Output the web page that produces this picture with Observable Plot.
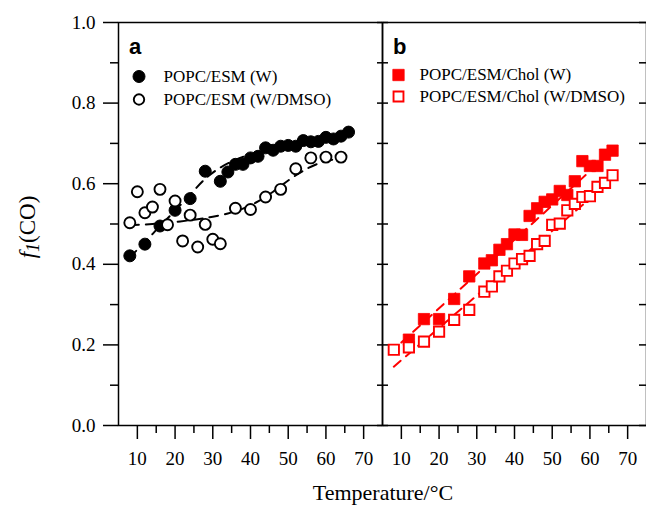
<!DOCTYPE html>
<html>
<head>
<meta charset="utf-8">
<script src="https://cdn.jsdelivr.net/npm/d3@7"></script>
<script src="https://cdn.jsdelivr.net/npm/@observablehq/plot@0.6"></script>
<style>
  html, body { margin: 0; padding: 0; background: #fff; }
  svg { overflow: visible; }
  #chart svg text { font-family: "Liberation Serif", "Times New Roman", serif; }
  #chart svg text.panel-letter, #chart svg g.panel-letter text { font-family: "Liberation Sans", Arial, sans-serif; }
</style>
</head>
<body>
<div id="chart"></div>
<script>
// ---- Data ----
const panels = ["a", "b"];

// Panel a: POPC/ESM (W)  — filled circles
const tA_W = [8,12,16,20,24,28,32,34,36,38,40,42,44,46,48,50,52,54,56,58,60,62,64,66];
const fA_W = [0.421,0.450,0.495,0.534,0.563,0.631,0.606,0.629,0.648,0.648,0.664,0.668,0.689,0.683,0.693,0.695,0.693,0.707,0.704,0.705,0.715,0.711,0.718,0.728];
// Panel a: POPC/ESM (W/DMSO) — open circles
const tA_D = [8,10,12,14,16,18,20,22,24,26,28,30,32,36,40,44,48,52,56,60,64];
const fA_D = [0.503,0.580,0.528,0.542,0.586,0.498,0.557,0.458,0.522,0.443,0.499,0.462,0.451,0.539,0.536,0.567,0.586,0.637,0.664,0.666,0.666];
// Panel b: POPC/ESM/Chol (W) — filled squares
const tB_W = [12,16,20,24,28,32,34,36,38,40,42,44,46,48,50,52,54,56,58,60,62,64,66];
const fB_W = [0.213,0.264,0.264,0.314,0.370,0.402,0.410,0.436,0.450,0.474,0.473,0.520,0.539,0.555,0.561,0.582,0.572,0.606,0.656,0.644,0.644,0.672,0.682];
// Panel b: POPC/ESM/Chol (W/DMSO) — open squares
const tB_D = [8,12,16,20,24,28,32,34,36,38,40,42,44,46,48,50,52,54,56,58,60,62,64,66];
const fB_D = [0.188,0.194,0.208,0.233,0.262,0.287,0.332,0.345,0.370,0.384,0.402,0.413,0.421,0.450,0.458,0.498,0.501,0.534,0.550,0.567,0.569,0.592,0.602,0.621];

// Dashed fit curves
const fitA_W_T = [8,12,16,20,24,28,32,36,40,44,48,52,56,60,64,66];
const fitA_W_f = [0.418,0.455,0.495,0.533,0.573,0.612,0.640,0.659,0.673,0.684,0.693,0.700,0.707,0.712,0.717,0.720];
const fitA_D_T = [8,14,20,26,30,34,38,42,46,50,54,58,62,64];
const fitA_D_f = [0.497,0.500,0.505,0.512,0.518,0.526,0.538,0.556,0.580,0.608,0.632,0.650,0.660,0.664];
const fitB_W_T = [10,66];
const fitB_W_f = [0.206,0.682];
const fitB_D_T = [8,66];
const fitB_D_f = [0.146,0.611];

// Ticks
const xMajor = [10,20,30,40,50,60,70];
const xMinor = [15,25,35,45,55,65];
const yMajor = [0,0.2,0.4,0.6,0.8,1.0];
const yMinor = [0.1,0.3,0.5,0.7,0.9];

// Legend labels
const legendA = ["POPC/ESM (W)", "POPC/ESM (W/DMSO)"];
const legendB = ["POPC/ESM/Chol (W)", "POPC/ESM/Chol (W/DMSO)"];

// ---- Build tables ----
const rows = (panel, T, F) => T.map((t, i) => ({panel, t, f: F[i]}));
const aW = rows("a", tA_W, fA_W), aD = rows("a", tA_D, fA_D);
const bW = rows("b", tB_W, fB_W), bD = rows("b", tB_D, fB_D);
const lAW = rows("a", fitA_W_T, fitA_W_f), lAD = rows("a", fitA_D_T, fitA_D_f);
const lBW = rows("b", fitB_W_T, fitB_W_f), lBD = rows("b", fitB_D_T, fitB_D_f);
const yAll = [...yMajor, ...yMinor];
const blank = () => "";
const RED = "#ff0000";
const dash = "9,7";
const SERIF = "Liberation Serif";
const SANS = "Liberation Sans";

const legendMark = (panel, label, i, sym) => {
  const d = [{panel, label}];
  const symDx = panel === "a" ? 20.5 : 16;
  const txtDx = panel === "a" ? 45 : 37;
  const dy = panel === "a" ? (i === 0 ? 54 : 77) : (i === 0 ? 52.5 : 74);
  return [
    Plot.dot(d, {fx: "panel", frameAnchor: "top-left", dx: symDx, dy, ...sym}),
    Plot.text(d, {fx: "panel", frameAnchor: "top-left", dx: txtDx, dy, text: "label",
      textAnchor: "start", lineAnchor: "middle", fontSize: 17, fontFamily: SERIF, fill: "black"})
  ];
};

const chart = Plot.plot({
  width: 646,
  height: 507,
  marginLeft: 117,
  marginRight: 0,
  marginTop: 22,
  marginBottom: 82,
  fx: {domain: panels, padding: 0, axis: null},
  x: {domain: [5, 75]},
  y: {domain: [0, 1]},
  style: {fontFamily: SERIF, fontSize: "19px", background: "white", color: "black"},
  marks: [
    // axes
    Plot.axisX({ticks: xMajor, tickSize: 14, tickPadding: 12, label: null, strokeWidth: 1.5, fontSize: 19, fontFamily: SERIF}),
    Plot.axisX({ticks: xMinor, tickSize: 8, tickFormat: blank, label: null, strokeWidth: 1.5}),
    Plot.axisY({ticks: yMajor, tickSize: 15, tickPadding: 8, tickFormat: ".1f", label: null, strokeWidth: 1.5, fontSize: 19, fontFamily: SERIF}),
    Plot.axisY({ticks: yMinor, tickSize: 8, tickFormat: blank, label: null, strokeWidth: 1.5}),
    // ticks crossing the divider
    Plot.axisY({anchor: "right", facetAnchor: "left", ticks: yAll, tickSize: 5, tickFormat: blank, label: null, strokeWidth: 1.5}),
    Plot.axisY({anchor: "left", facetAnchor: "right", ticks: yAll, tickSize: 5, tickFormat: blank, label: null, strokeWidth: 1.5}),
    // inward ticks on the far right edge
    Plot.axisY({anchor: "right", facetAnchor: "right", ticks: yAll, tickSize: 8, dx: -8, tickFormat: blank, label: null, strokeWidth: 1.5}),
    Plot.frame({stroke: "black", strokeWidth: 1.5}),

    // panel letters
    Plot.text(panels, {fx: d => d, text: d => d, frameAnchor: "top-left", dx: 10.5, dy: 24,
      textAnchor: "start", lineAnchor: "middle", fontFamily: SANS, className: "panel-letter",
      fontWeight: "bold", fontSize: 22, fill: "black"}),

    // fit lines
    Plot.line(lAW, {fx: "panel", x: "t", y: "f", stroke: "black", strokeWidth: 2, strokeDasharray: dash, curve: "natural"}),
    Plot.line(lAD, {fx: "panel", x: "t", y: "f", stroke: "black", strokeWidth: 2, strokeDasharray: dash, curve: "natural"}),
    Plot.line(lBW, {fx: "panel", x: "t", y: "f", stroke: RED, strokeWidth: 2, strokeDasharray: dash}),
    Plot.line(lBD, {fx: "panel", x: "t", y: "f", stroke: RED, strokeWidth: 2, strokeDasharray: dash}),

    // points
    Plot.dot(aW, {fx: "panel", x: "t", y: "f", r: 6, fill: "black", stroke: "black", strokeWidth: 1}),
    Plot.dot(aD, {fx: "panel", x: "t", y: "f", r: 5.5, fill: "white", stroke: "black", strokeWidth: 1.9}),
    Plot.dot(bW, {fx: "panel", x: "t", y: "f", symbol: "square", r: 6.4, fill: RED, stroke: RED, strokeWidth: 0.8}),
    Plot.dot(bD, {fx: "panel", x: "t", y: "f", symbol: "square", r: 5.8, fill: "white", stroke: RED, strokeWidth: 1.9}),

    // legends
    ...legendMark("a", legendA[0], 0, {r: 6, fill: "black", stroke: "black", strokeWidth: 1}),
    ...legendMark("a", legendA[1], 1, {r: 5.2, fill: "white", stroke: "black", strokeWidth: 1.9}),
    ...legendMark("b", legendB[0], 0, {symbol: "square", r: 6.4, fill: RED, stroke: RED, strokeWidth: 0.8}),
    ...legendMark("b", legendB[1], 1, {symbol: "square", r: 5.6, fill: "white", stroke: RED, strokeWidth: 1.9})
  ]
});

const svg = d3.select(chart);
svg.attr("font-family", SERIF);
// y-axis title: f1(CO), italic f and subscript 1
const yt = svg.append("text")
  .attr("transform", "translate(35,227) rotate(-90)")
  .attr("text-anchor", "middle")
  .attr("font-family", SERIF)
  .attr("font-size", 23)
  .attr("fill", "black");
yt.append("tspan").attr("font-style", "italic").text("f");
yt.append("tspan").attr("font-style", "italic").attr("font-size", 18).attr("dy", 4).text("1");
yt.append("tspan").attr("dy", -4).text("(CO)");
// x-axis title
svg.append("text")
  .attr("x", 383).attr("y", 500)
  .attr("text-anchor", "middle")
  .attr("font-family", SERIF)
  .attr("font-size", 22)
  .attr("fill", "black")
  .text("Temperature/°C");

document.getElementById("chart").append(chart);
</script>
</body>
</html>
